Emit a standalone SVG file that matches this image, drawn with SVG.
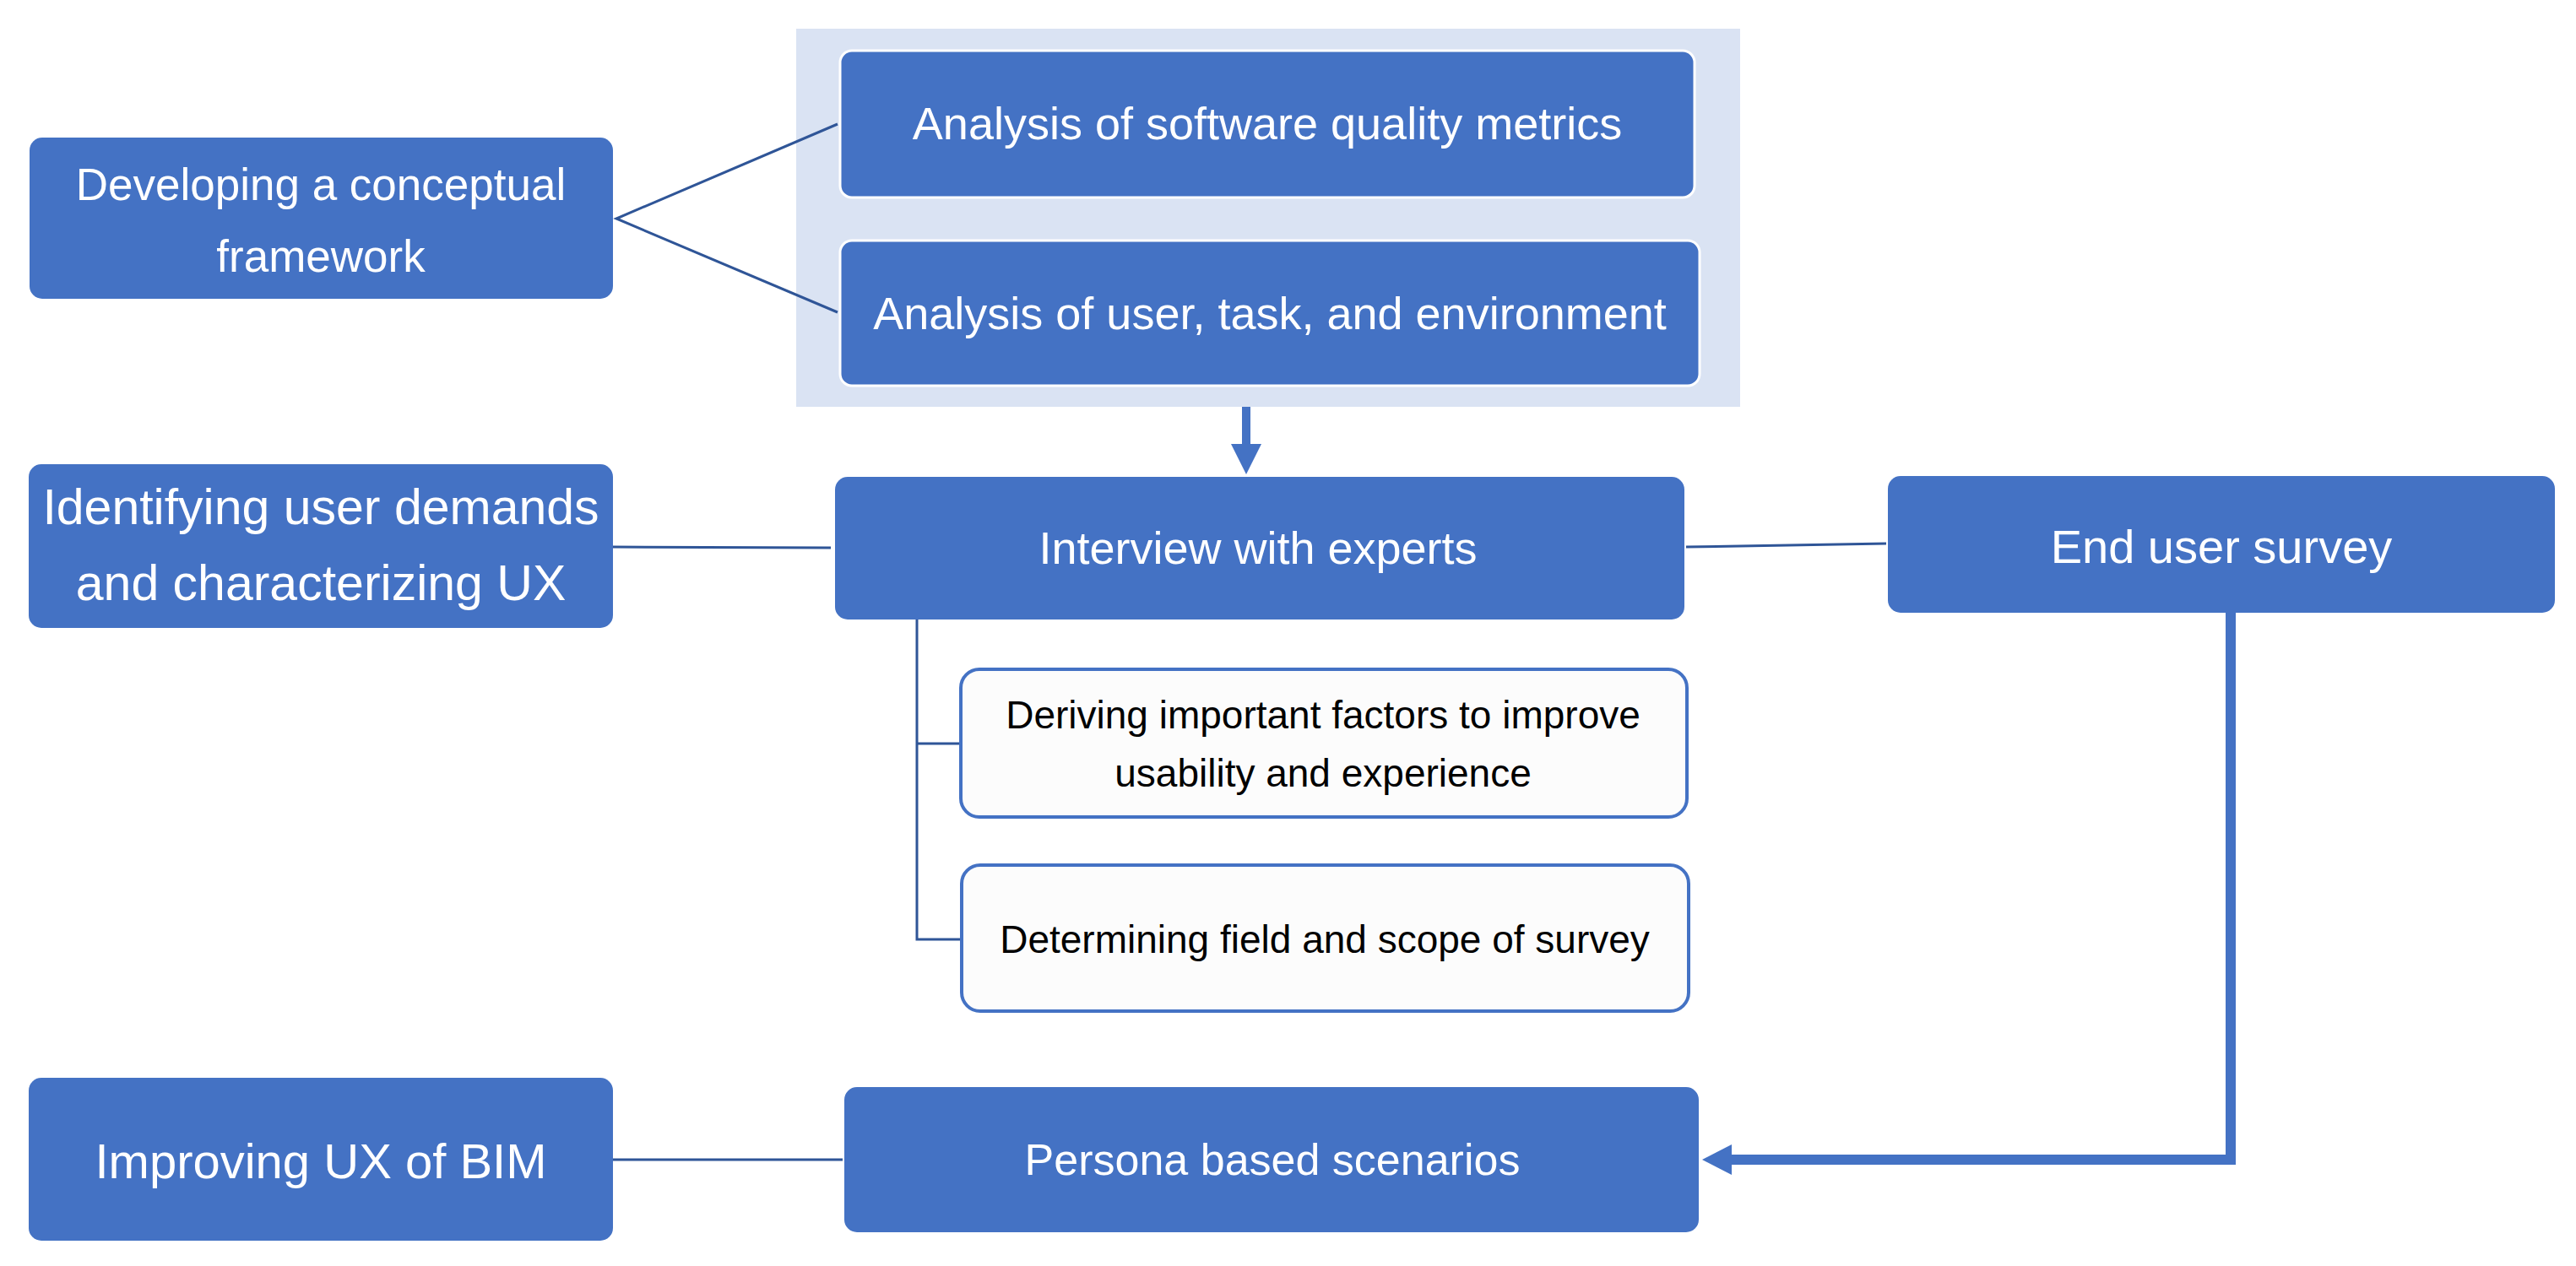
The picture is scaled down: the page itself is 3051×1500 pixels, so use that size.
<svg xmlns="http://www.w3.org/2000/svg" width="3051" height="1500" viewBox="0 0 3051 1500">
<style>
.box{fill:#4472C4;}
.boxw{fill:#4472C4;stroke:#FFFFFF;stroke-width:3;}
.sub{fill:#FCFCFC;stroke:#4472C4;stroke-width:4;}
.t{font-family:"Liberation Sans",Arial,sans-serif;fill:#FFFFFF;text-anchor:middle;}
.tb{font-family:"Liberation Sans",Arial,sans-serif;fill:#000000;text-anchor:middle;}
.thin{fill:none;stroke:#2F5597;stroke-width:3;}
.thick{fill:none;stroke:#4472C4;stroke-width:12;}
.head{fill:#4472C4;}
</style>
<rect x="0" y="0" width="3051" height="1500" fill="#FFFFFF"/>
<rect id="panel" x="943" y="34" width="1118" height="448" fill="#DAE3F3"/>

<g id="connectors">
  <polyline class="thin" points="992,147 730,259 992,370"/>
  <line x1="1476" y1="482" x2="1476" y2="530" stroke="#4472C4" stroke-width="10"/>
  <polygon class="head" points="1458,526 1494,526 1476,562"/>
  <line class="thin" x1="726" y1="648" x2="984" y2="649"/>
  <line class="thin" x1="1997" y1="648" x2="2234" y2="644"/>
  <polyline class="thin" points="1086,734 1086,1113 1139,1113"/>
  <line class="thin" x1="1086" y1="881" x2="1138" y2="881"/>
  <polyline class="thick" points="2642,726 2642,1374 2046,1374"/>
  <polygon class="head" points="2016,1374 2051,1356 2051,1392"/>
  <line class="thin" x1="726" y1="1374" x2="998" y2="1374"/>
</g>

<g id="developing">
  <rect class="box" x="35" y="163" width="691" height="191" rx="15"/>
  <text class="t" x="380" y="237" font-size="53">Developing a conceptual</text>
  <text class="t" x="380" y="322" font-size="53">framework</text>
</g>
<g id="analysis-software">
  <rect class="boxw" x="995" y="60" width="1012" height="174" rx="14"/>
  <text class="t" x="1501" y="165" font-size="54">Analysis of software quality metrics</text>
</g>
<g id="analysis-user">
  <rect class="boxw" x="995" y="285" width="1018" height="172" rx="14"/>
  <text class="t" x="1504" y="390" font-size="54">Analysis of user, task, and environment</text>
</g>
<g id="identifying">
  <rect class="box" x="34" y="550" width="692" height="194" rx="15"/>
  <text class="t" x="380" y="621" font-size="59">Identifying user demands</text>
  <text class="t" x="380" y="711" font-size="59">and characterizing UX</text>
</g>
<g id="interview">
  <rect class="box" x="989" y="565" width="1006" height="169" rx="15"/>
  <text class="t" x="1490" y="668" font-size="54">Interview with experts</text>
</g>
<g id="end-user">
  <rect class="box" x="2236" y="564" width="790" height="162" rx="15"/>
  <text class="t" x="2631" y="667" font-size="56">End user survey</text>
</g>
<g id="deriving">
  <rect class="sub" x="1138" y="793" width="860" height="175" rx="22"/>
  <text class="tb" x="1567" y="863" font-size="46">Deriving important factors to improve</text>
  <text class="tb" x="1567" y="932" font-size="46">usability and experience</text>
</g>
<g id="determining">
  <rect class="sub" x="1139" y="1025" width="861" height="173" rx="22"/>
  <text class="tb" x="1569" y="1129" font-size="46">Determining field and scope of survey</text>
</g>
<g id="persona">
  <rect class="box" x="1000" y="1288" width="1012" height="172" rx="15"/>
  <text class="t" x="1507" y="1392" font-size="52">Persona based scenarios</text>
</g>
<g id="improving">
  <rect class="box" x="34" y="1277" width="692" height="193" rx="15"/>
  <text class="t" x="380" y="1396" font-size="58">Improving UX of BIM</text>
</g>
</svg>
